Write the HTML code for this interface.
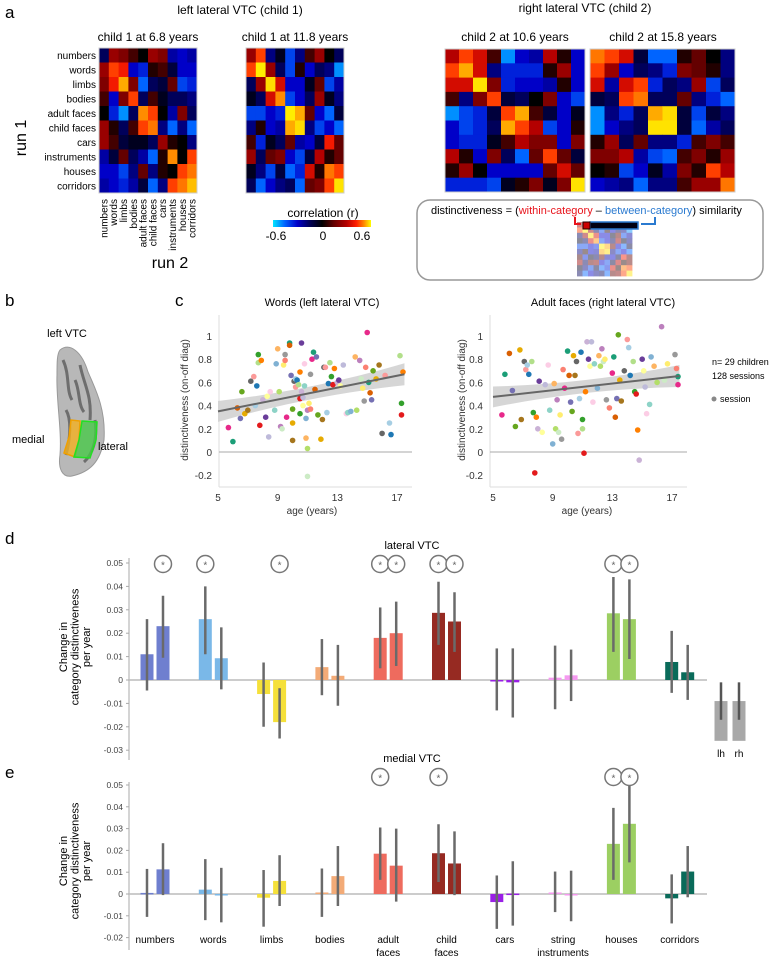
<!DOCTYPE html>
<html><head><meta charset="utf-8">
<style>
html,body{margin:0;padding:0;background:#fff;}
svg{display:block;font-family:"Liberation Sans",sans-serif;}
</style></head>
<body>
<svg id="fig" width="771" height="959" viewBox="0 0 771 959" xmlns="http://www.w3.org/2000/svg">
<text x="5" y="18" font-size="17">a</text>
<text x="5" y="306" font-size="17">b</text>
<text x="175" y="306" font-size="17">c</text>
<text x="5" y="544" font-size="17">d</text>
<text x="5" y="778" font-size="17">e</text>

<text x="240" y="14" font-size="12" text-anchor="middle">left lateral VTC (child 1)</text>
<text x="585" y="12" font-size="12" text-anchor="middle">right lateral VTC (child 2)</text>
<text x="148" y="41" font-size="12" text-anchor="middle">child 1 at 6.8 years</text>
<text x="295" y="41" font-size="12" text-anchor="middle">child 1 at 11.8 years</text>
<text x="515" y="41" font-size="12" text-anchor="middle">child 2 at 10.6 years</text>
<text x="663" y="41" font-size="12" text-anchor="middle">child 2 at 15.8 years</text>
<text x="0" y="0" font-size="16" transform="translate(26,138) rotate(-90)" text-anchor="middle">run 1</text>
<text x="170" y="268" font-size="16" text-anchor="middle">run 2</text>
<g id="heatmaps"></g>
<g id="hmlabels"></g>
<defs>
<linearGradient id="cbar" x1="0" x2="1" y1="0" y2="0">
<stop offset="0" stop-color="#00e5ff"/><stop offset="0.12" stop-color="#0064ff"/><stop offset="0.25" stop-color="#0000c8"/><stop offset="0.37" stop-color="#00005a"/><stop offset="0.5" stop-color="#000"/><stop offset="0.62" stop-color="#640000"/><stop offset="0.75" stop-color="#b40000"/><stop offset="0.85" stop-color="#ff1e00"/><stop offset="0.93" stop-color="#ff8c00"/><stop offset="1" stop-color="#ffff00"/>
</linearGradient>
</defs>
<text x="323" y="217" font-size="12" text-anchor="middle">correlation (r)</text>
<rect x="273" y="220" width="98" height="7" fill="url(#cbar)"/>
<text x="276" y="240" font-size="12" text-anchor="middle">-0.6</text>
<text x="323" y="240" font-size="12" text-anchor="middle">0</text>
<text x="362" y="240" font-size="12" text-anchor="middle">0.6</text>

<rect x="417" y="200" width="346" height="80" rx="13" fill="#fff" stroke="#999" stroke-width="1.5"/>
<text x="431" y="214" font-size="11">distinctiveness = (<tspan fill="#e8141c">within-category</tspan> – <tspan fill="#2a7ad0">between-category</tspan>) similarity</text>
<g id="mini" opacity="0.45"></g>
<rect x="590" y="222" width="48" height="7" fill="#001" stroke="#2a7ad0" stroke-width="1.5"/>
<rect x="583" y="222" width="7" height="7" fill="#c00" stroke="#200" stroke-width="1"/>
<path d="M575,217 L575,224 L581,224" fill="none" stroke="#e8141c" stroke-width="2"/>
<path d="M655,217 L655,224 L641,224" fill="none" stroke="#2a7ad0" stroke-width="2"/>

<text x="67" y="337" font-size="11" text-anchor="middle">left VTC</text>
<g>
<path d="M60,350 C70,342 82,352 88,372 C96,390 106,410 104,440 C100,462 90,472 72,476 C62,478 58,468 60,455 C62,430 56,400 57,375 C57,362 57,354 60,350 Z" fill="#b8b8b8" stroke="#999"/>
<path d="M63,360 C70,375 66,390 72,400 M80,365 C84,385 92,395 90,420 M66,410 C72,420 70,440 66,455 M95,420 C98,440 92,455 84,462 M75,380 C80,390 78,405 84,412" stroke="#6e6e6e" stroke-width="3" fill="none"/>
<polygon points="71,420 80,421 79,440 75,457 64,453 69,437" fill="#f2b020" fill-opacity="0.8" stroke="#f0a000" stroke-width="1.5"/>
<polygon points="82,421 97,422 96,440 90,458 74,457 79,440" fill="#48c848" fill-opacity="0.8" stroke="#22e022" stroke-width="1.5"/>
</g>
<text x="12" y="443" font-size="11">medial</text>
<text x="98" y="450" font-size="11">lateral</text>

<g id="scatters"></g>
<circle cx="714" cy="399" r="2.5" fill="#888"/>
<text x="712" y="365" font-size="9">n= 29 children</text>
<text x="712" y="379" font-size="9">128 sessions</text>
<text x="720" y="402" font-size="9">session</text>

<g id="bars"></g>
</svg>
<script>
const NS="http://www.w3.org/2000/svg";
function mk(tag,attrs,parent){const e=document.createElementNS(NS,tag);for(const k in attrs)e.setAttribute(k,attrs[k]);parent.appendChild(e);return e;}

const categories=["numbers","words","limbs","bodies","adult faces","child faces","cars","instruments","houses","corridors"];
const hmChild1Age68=[
[-0.15,0.25,0.2,0.1,0.0,0.25,0.2,-0.25,-0.3,-0.25],
[0.25,0.45,0.4,-0.3,-0.35,0.05,0.1,-0.1,-0.3,-0.3],
[0.2,0.4,0.55,0.2,-0.45,-0.15,-0.1,0.15,-0.4,-0.35],
[0.1,-0.3,0.2,0.45,-0.15,0.1,-0.05,-0.15,-0.15,-0.2],
[0.0,-0.35,-0.5,-0.15,0.52,0.45,0.0,-0.25,0.2,-0.15],
[0.25,0.05,-0.15,0.1,0.45,0.5,-0.2,-0.45,-0.2,-0.45],
[0.25,0.1,-0.1,-0.05,-0.05,-0.15,0.25,0.05,0.0,-0.2],
[-0.25,-0.1,0.15,-0.15,-0.25,-0.45,0.05,0.52,0.0,0.45],
[-0.3,-0.3,-0.4,-0.2,0.15,-0.2,0.05,0.0,0.45,0.5],
[-0.25,-0.3,-0.35,-0.25,-0.1,-0.45,-0.2,0.45,0.5,0.57]];
const hmChild1Age118=[
[0.25,0.45,-0.2,-0.05,-0.4,-0.2,0.1,0.25,0.0,-0.15],
[0.45,0.65,0.25,-0.15,-0.4,0.05,-0.3,-0.15,-0.2,-0.5],
[-0.15,0.25,0.6,0.35,-0.3,-0.3,-0.05,0.15,-0.4,-0.25],
[-0.05,-0.15,0.35,0.52,-0.4,-0.3,-0.15,0.25,-0.05,-0.2],
[-0.4,-0.4,-0.3,-0.35,0.65,0.55,0.15,-0.3,-0.45,-0.1],
[-0.2,0.05,-0.3,-0.25,0.55,0.6,-0.2,-0.4,-0.3,-0.45],
[0.1,-0.35,-0.05,-0.15,0.15,-0.25,-0.3,-0.1,0.4,0.15],
[0.25,-0.15,0.15,0.2,-0.3,-0.4,-0.1,0.3,0.05,0.15],
[-0.05,-0.2,-0.4,-0.1,-0.45,-0.35,0.35,0.05,0.5,0.45],
[-0.15,-0.45,-0.3,-0.2,-0.15,-0.45,0.15,0.2,0.45,0.62]];
const hmChild2Age106=[
[0.3,0.45,0.35,0.1,-0.5,-0.3,-0.25,0.3,0.05,-0.3],
[0.45,0.55,0.35,-0.2,-0.35,-0.35,-0.35,0.05,0.25,-0.3],
[0.35,0.35,0.62,0.2,-0.35,-0.3,-0.3,-0.25,0.05,-0.3],
[0.1,-0.2,0.2,0.45,-0.1,-0.15,0.0,0.2,-0.3,-0.4],
[-0.5,-0.4,-0.35,-0.1,0.45,0.55,0.1,-0.1,-0.3,-0.05],
[-0.3,-0.4,-0.35,-0.15,0.55,0.45,0.3,-0.4,-0.3,0.05],
[-0.3,-0.35,-0.35,-0.05,0.1,0.3,0.2,0.2,-0.3,0.2],
[0.3,0.05,-0.3,0.2,-0.15,-0.45,0.15,0.45,0.15,-0.1],
[0.05,0.25,0.0,-0.3,-0.3,-0.3,-0.3,0.15,0.35,0.15],
[-0.35,-0.35,-0.35,-0.4,-0.05,0.05,0.2,-0.05,0.2,0.62]];
const hmChild2Age158=[
[0.5,0.45,0.35,-0.1,-0.45,-0.45,0.05,0.15,0.0,-0.2],
[0.45,0.25,-0.3,-0.15,-0.2,-0.35,0.2,0.15,0.05,-0.2],
[0.35,-0.25,0.35,0.45,-0.35,-0.15,-0.2,0.25,-0.4,-0.15],
[-0.1,-0.15,0.45,0.5,-0.15,-0.15,0.15,-0.2,-0.35,-0.45],
[-0.5,-0.2,-0.35,-0.15,0.55,0.6,-0.1,-0.4,-0.1,-0.2],
[-0.5,-0.3,-0.2,-0.15,0.62,0.62,-0.1,-0.45,-0.25,-0.15],
[0.05,0.25,-0.15,0.15,-0.2,-0.2,-0.35,0.1,0.2,0.1],
[0.2,0.2,0.3,-0.25,-0.4,-0.45,0.1,0.2,0.05,0.25],
[0.0,0.05,-0.4,-0.3,-0.05,-0.25,0.2,0.05,0.45,0.3],
[-0.3,-0.25,-0.2,-0.45,-0.2,-0.2,0.1,0.25,0.25,0.5]];

const wordsAges=[5.7,6.0,6.3,6.5,6.6,6.8,7.0,7.2,7.4,7.5,7.6,7.7,7.7,7.8,7.9,8.0,8.2,8.3,8.4,8.5,8.8,8.9,9.0,9.1,9.2,9.3,9.4,9.5,9.5,9.6,9.8,9.8,9.9,10.0,10.0,10.0,10.1,10.2,10.2,10.3,10.4,10.5,10.5,10.5,10.6,10.6,10.7,10.7,10.8,10.8,10.9,10.9,11.0,11.0,11.0,11.1,11.2,11.2,11.3,11.4,11.5,11.6,11.7,11.9,12.0,12.1,12.2,12.3,12.4,12.5,12.6,12.7,12.8,13.0,13.1,13.2,13.4,13.6,13.7,13.9,14.2,14.3,14.5,14.6,14.7,14.8,14.9,15.0,15.1,15.2,15.3,15.4,15.6,15.8,16.0,16.2,16.5,16.6,17.2,17.3,17.3,17.4];
const wordsValues=[0.21,0.09,0.38,0.29,0.52,0.33,0.36,0.61,0.65,0.40,0.57,0.77,0.84,0.23,0.79,0.45,0.30,0.48,0.13,0.52,0.36,0.76,0.89,0.52,0.22,0.20,0.75,0.84,0.79,0.30,0.94,0.92,0.66,0.37,0.25,0.10,0.61,0.56,0.63,0.62,0.58,0.33,0.46,0.69,0.52,0.94,0.40,0.47,0.76,0.57,0.29,0.12,0.03,0.36,-0.21,0.42,0.67,0.37,0.80,0.86,0.54,0.82,0.32,0.11,0.28,0.73,0.73,0.34,0.59,0.77,0.65,0.58,0.72,0.60,0.62,0.57,0.75,0.33,0.34,0.35,0.82,0.36,0.79,0.63,0.55,0.44,0.73,1.03,0.60,0.51,0.45,0.70,0.63,0.75,0.16,0.66,0.25,0.15,0.83,0.42,0.32,0.69];
const facesAges=[5.6,5.8,6.1,6.3,6.5,6.8,6.9,7.1,7.2,7.3,7.4,7.6,7.7,7.8,7.9,8.0,8.1,8.3,8.5,8.7,8.8,9.0,9.1,9.2,9.3,9.4,9.5,9.6,9.7,9.8,10.0,10.1,10.2,10.3,10.4,10.5,10.6,10.7,10.8,10.9,11.0,11.0,11.1,11.2,11.3,11.4,11.5,11.6,11.7,11.8,12.0,12.1,12.2,12.3,12.4,12.5,12.6,12.8,13.0,13.1,13.2,13.3,13.4,13.5,13.6,13.8,14.0,14.1,14.2,14.4,14.5,14.6,14.7,14.8,15.0,15.1,15.2,15.3,15.5,15.6,15.8,16.0,16.3,16.5,16.7,17.2,17.3,17.4,17.4];
const facesValues=[0.32,0.67,0.85,0.53,0.22,0.88,0.28,0.78,0.71,0.75,0.67,0.78,0.34,-0.18,0.30,0.20,0.61,0.17,0.58,0.75,0.36,0.07,0.59,0.20,0.45,0.17,0.32,0.11,0.71,0.55,0.87,0.66,0.43,0.35,0.83,0.66,0.78,0.16,0.46,0.86,0.20,0.28,-0.01,0.52,0.95,0.80,0.74,0.95,0.43,0.76,0.55,0.83,0.74,0.89,0.78,0.80,0.45,0.38,0.68,0.82,0.30,0.46,1.01,0.62,0.44,0.70,0.97,0.90,0.66,0.78,0.52,0.50,0.19,-0.07,0.80,0.70,0.56,0.33,0.41,0.82,0.74,0.60,1.08,0.62,0.76,0.84,0.72,0.58,0.65];
const wordsFit=[0.35,0.67];
const facesFit=[0.475,0.655];
const yTicksScatter=[-0.2,0,0.2,0.4,0.6,0.8,1];
const xTicksScatter=[5,9,13,17];

const barCategories=["numbers","words","limbs","bodies","adult faces","child faces","cars","string instruments","houses","corridors"];
const lateralLH=[0.011,0.026,-0.006,0.0055,0.018,0.0287,0.0,0.001,0.0285,0.0077];
const lateralRH=[0.023,0.0093,-0.018,0.0018,0.020,0.025,-0.001,0.002,0.026,0.0033];
const lateralLHlo=[-0.0045,0.011,-0.020,-0.0065,0.005,0.015,-0.013,-0.0125,0.012,-0.0055];
const lateralLHhi=[0.026,0.040,0.0075,0.0175,0.031,0.042,0.0135,0.0147,0.044,0.021];
const lateralRHlo=[0.0095,-0.004,-0.025,-0.011,0.006,0.012,-0.016,-0.009,0.009,-0.0085];
const lateralRHhi=[0.036,0.0225,-0.0035,0.015,0.0335,0.0375,0.0135,0.013,0.043,0.015];
const lateralSigLH=[0,1,0,0,1,1,0,0,1,0];
const lateralSigRH=[1,0,1,0,1,1,0,0,1,0];
const medialLH=[0.0005,0.002,-0.0017,0.0007,0.0185,0.0187,-0.0037,0.0007,0.023,-0.002];
const medialRH=[0.0113,-0.0003,0.006,0.0082,0.013,0.014,0.0002,-0.0005,0.0322,0.0103];
const medialLHlo=[-0.0105,-0.012,-0.015,-0.0105,0.0065,0.0055,-0.016,-0.0083,0.0065,-0.0135];
const medialLHhi=[0.0115,0.016,0.011,0.0117,0.0305,0.032,0.0085,0.0103,0.0395,0.009];
const medialRHlo=[-0.0005,-0.013,-0.0055,-0.0055,-0.0035,-0.0005,-0.0145,-0.0125,0.0145,-0.0015];
const medialRHhi=[0.0233,0.012,0.0178,0.022,0.030,0.0287,0.015,0.0107,0.050,0.022];
const medialSigLH=[0,0,0,0,1,1,0,0,1,0];
const medialSigRH=[0,0,0,0,0,0,0,0,1,0];
const hemiMean=[-0.026,-0.026];
const hemiTop=[-0.009,-0.009];
const hemiLo=[-0.017,-0.017];
const hemiHi=[-0.001,-0.001];
const ticksLateral=[0.05,0.04,0.03,0.02,0.01,0,-0.01,-0.02,-0.03];
const ticksMedial=[0.05,0.04,0.03,0.02,0.01,0,-0.01,-0.02];

const catColors=["#6f7fcf","#7ab8e8","#f5e03a","#f3ab77","#ee6b5e","#962a22","#9a1fe6","#f59af0","#9ccf62","#0a6b5a"];
const palette=["#e7298a","#1b9e77","#d95f02","#7570b3","#66a61e","#e6ab02","#a6761d","#666666","#fb9a99","#a6cee3","#1f78b4","#b2df8a","#33a02c","#e31a1c","#ff7f00","#cab2d6","#6a3d9a","#ffff99","#bebada","#fccde5","#8dd3c7","#80b1d3","#fdb462","#b3de69","#bc80bd","#ccebc5","#ffed6f","#999999","#fb8072"];

const cmStops=[[-0.6,[0,229,255]],[-0.45,[0,100,255]],[-0.3,[0,0,200]],[-0.15,[0,0,90]],[0,[0,0,0]],[0.15,[100,0,0]],[0.3,[180,0,0]],[0.42,[255,30,0]],[0.52,[255,140,0]],[0.6,[255,220,0]],[0.7,[255,255,0]]];
function cmap(v){
  if(v<=cmStops[0][0])return "rgb("+cmStops[0][1].join(",")+")";
  for(let i=1;i<cmStops.length;i++){
    if(v<=cmStops[i][0]){const a=cmStops[i-1],b=cmStops[i];const t=(v-a[0])/(b[0]-a[0]);
      return "rgb("+a[1].map((c,k)=>Math.round(c+(b[1][k]-c)*t)).join(",")+")";}
  }
  return "rgb(255,255,0)";
}

const hmG=document.getElementById("heatmaps");
const hmDefs=[[hmChild1Age68,99,48,98,145,"heatmap-child1-6-8"],[hmChild1Age118,246,48,98,145,"heatmap-child1-11-8"],[hmChild2Age106,445,49,140,143,"heatmap-child2-10-6"],[hmChild2Age158,590,49,145,143,"heatmap-child2-15-8"]];
hmDefs.forEach(d=>{
  const [m,x0,y0,w,h,name]=d;
  const g=mk("g",{},hmG);
  
  
  const cw=w/10,ch=h/10;
  m.forEach((row,i)=>row.forEach((v,j)=>{
    const r=mk("rect",{x:(x0+j*cw).toFixed(2),y:(y0+i*ch).toFixed(2),width:(cw+0.4).toFixed(2),height:(ch+0.4).toFixed(2),fill:cmap(v)},g);
    
    
  }));
  mk("rect",{x:x0,y:y0,width:w,height:h,fill:"none",stroke:"#ccc","stroke-width":1},g);
});
const miniG=document.getElementById("mini");
hmChild1Age118.forEach((row,i)=>row.forEach((v,j)=>{
  const r=mk("rect",{x:(577+j*5.5).toFixed(2),y:(222+i*5.4).toFixed(2),width:5.9,height:5.8,fill:cmap(v)},miniG);
  
  
}));
const lblG=document.getElementById("hmlabels");
categories.forEach((c,i)=>{
  const t=mk("text",{x:96,y:(48+(i+0.5)*14.5+3.5).toFixed(1),"font-size":10,"text-anchor":"end"},lblG);
  t.textContent=c;
  
  
  const cx=99+(i+0.5)*9.8+3.5;
  const t2=mk("text",{x:0,y:0,"font-size":10,"text-anchor":"end",transform:"translate("+cx.toFixed(1)+",199) rotate(-90)"},lblG);
  t2.textContent=c;
  
  
});

const scG=document.getElementById("scatters");
function scatter(ages,vals,fit,left,right,x5,x17,title,titleX,ylx,name){
  const g=mk("g",{},scG);
  
  
  const xs=a=>x5+(a-5)*(x17-x5)/12;
  const ys=v=>452-v*116;
  mk("line",{x1:left,y1:315,x2:left,y2:487,stroke:"#ddd","stroke-width":1},g);
  mk("line",{x1:left,y1:487,x2:right,y2:487,stroke:"#ddd","stroke-width":1},g);
  mk("line",{x1:left,y1:ys(0),x2:right,y2:ys(0),stroke:"#aaa","stroke-width":1},g);
  yTicksScatter.forEach(v=>{
    const t=mk("text",{x:left-7,y:ys(v)+4,"font-size":10,"text-anchor":"end",fill:"#333"},g);
    t.textContent=(v===0?"0":String(v));
    
    
  });
  xTicksScatter.forEach(a=>{
    const t=mk("text",{x:xs(a),y:501,"font-size":10,"text-anchor":"middle",fill:"#333"},g);
    t.textContent=String(a);
    
    
  });
  const xl=mk("text",{x:xs(11.3),y:514,"font-size":10,"text-anchor":"middle",fill:"#333"},g);
  xl.textContent="age (years)";
  
  
  const yl=mk("text",{x:0,y:0,"font-size":10,"text-anchor":"middle",fill:"#333",transform:"translate("+ylx+",400) rotate(-90)"},g);
  yl.textContent="distinctiveness (on-off diag)";
  
  
  const tt=mk("text",{x:titleX,y:306,"font-size":11,"text-anchor":"middle"},g);
  tt.textContent=title;
  
  
  const a0=5,a1=17.5,f0=fit[0],f1=fit[1],am=11.2,fm=f0+(f1-f0)*(am-a0)/(a1-a0);
  const band=mk("path",{d:`M${xs(a0)},${ys(f0+0.09)} Q${xs(am)},${ys(fm+0.02)} ${xs(a1)},${ys(f1+0.095)} L${xs(a1)},${ys(f1-0.095)} Q${xs(am)},${ys(fm-0.02)} ${xs(a0)},${ys(f0-0.09)} Z`,fill:"#cfcfcf","fill-opacity":0.85},g);
  
  
  ages.forEach((a,i)=>{
    const c=mk("circle",{cx:xs(a).toFixed(1),cy:ys(vals[i]).toFixed(1),r:2.8,fill:palette[i%palette.length]},g);
    
    
  });
  const ln=mk("line",{x1:xs(a0),y1:ys(f0),x2:xs(a1),y2:ys(f1),stroke:"#666","stroke-width":2},g);
  
  
}
scatter(wordsAges,wordsValues,wordsFit,219,412,218,397,"Words (left lateral VTC)",322,188,"scatter-words");
scatter(facesAges,facesValues,facesFit,490,687,493,672,"Adult faces (right lateral VTC)",603,465,"scatter-adult-faces");

const bG=document.getElementById("bars");
const gx=g=>155+g*58.3;
function barChart(lh,rh,lhLo,lhHi,rhLo,rhHi,sigL,sigR,ticks,y0,perUnit,top,bottom,title,titleY,starY,name,xLabels){
  const g=mk("g",{},bG);
  
  
  const ys=v=>y0-v*perUnit;
  mk("line",{x1:129,y1:top,x2:129,y2:bottom,stroke:"#aaa","stroke-width":1},g);
  ticks.forEach(v=>{
    mk("line",{x1:126,y1:ys(v),x2:129,y2:ys(v),stroke:"#aaa"},g);
    const t=mk("text",{x:123,y:ys(v)+3,"font-size":8.5,"text-anchor":"end",fill:"#444"},g);
    t.textContent=v===0?"0":String(v);
    
    
  });
  const tt=mk("text",{x:412,y:titleY,"font-size":11,"text-anchor":"middle"},g);
  tt.textContent=title;
  
  
  const yl=mk("text",{x:0,y:0,"font-size":11,"text-anchor":"middle",transform:`translate(67,${ys(0)-33}) rotate(-90)`},g);
  yl.innerHTML='<tspan x="0" dy="0">Change in</tspan><tspan x="0" dy="11.5">category distinctiveness</tspan><tspan x="0" dy="11.5">per year</tspan>';
  
  
  mk("line",{x1:129,y1:ys(0),x2:707,y2:ys(0),stroke:"#bbb","stroke-width":1.5},g);
  for(let c=0;c<lh.length;c++){
    [[lh,lhLo,lhHi,sigL,-8],[rh,rhLo,rhHi,sigR,8]].forEach(s=>{
      const [vals,lo,hi,sig,off]=s;const cx=gx(c)+off;const v=vals[c];
      const r=mk("rect",{x:cx-6.5,y:Math.min(ys(v),ys(0)),width:13,height:Math.max(Math.abs(ys(v)-ys(0)),1.5),fill:catColors[c]},g);
      
      
      const e=mk("line",{x1:cx,y1:ys(lo[c]),x2:cx,y2:ys(hi[c]),stroke:"#6a6a6a","stroke-width":2.5},g);
      
      
      if(sig[c]){
        const ci=mk("circle",{cx:cx,cy:starY,r:8.5,fill:"#fff",stroke:"#777","stroke-width":1.5},g);
        
        
        const st=mk("text",{x:cx,y:starY+4.5,"font-size":10,"text-anchor":"middle",fill:"#666"},g);
        st.textContent="*";
        
        
      }
    });
    if(xLabels){
      const parts={"adult faces":["adult","faces"],"child faces":["child","faces"],"string instruments":["string","instruments"]}[barCategories[c]]||[barCategories[c]];
      parts.forEach((p,k)=>{
        const t=mk("text",{x:gx(c),y:943+k*13,"font-size":10,"text-anchor":"middle"},g);
        t.textContent=p;
        
        
      });
    }
  }
  return ys;
}
const ysD=barChart(lateralLH,lateralRH,lateralLHlo,lateralLHhi,lateralRHlo,lateralRHhi,lateralSigLH,lateralSigRH,ticksLateral,680,2340,558,760,"lateral VTC",549,564,"bar-chart-lateral",false);
barChart(medialLH,medialRH,medialLHlo,medialLHhi,medialRHlo,medialRHhi,medialSigLH,medialSigRH,ticksMedial,894,2180,782,950,"medial VTC",762,777,"bar-chart-medial",true);
["lh","rh"].forEach((h,i)=>{
  const cx=721+i*18;
  const r=mk("rect",{x:cx-6.5,y:ysD(hemiTop[i]),width:13,height:ysD(hemiMean[i])-ysD(hemiTop[i]),fill:"#a8a8a8"},bG);
  
  
  const e=mk("line",{x1:cx,y1:ysD(hemiLo[i]),x2:cx,y2:ysD(hemiHi[i]),stroke:"#555","stroke-width":2.5},bG);
  
  
  const t=mk("text",{x:cx,y:757,"font-size":10,"text-anchor":"middle"},bG);
  t.textContent=h;
  
  
});
</script>
</body></html>
